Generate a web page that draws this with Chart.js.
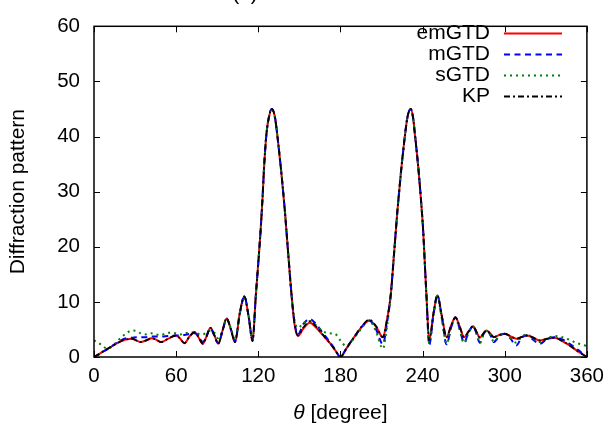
<!DOCTYPE html>
<html>
<head>
<meta charset="utf-8">
<script src="https://cdn.jsdelivr.net/npm/chart.js@4.4.1/dist/chart.umd.min.js"></script>
<style>
  html, body { margin: 0; padding: 0; background: #fff; }
  canvas { display: block; }
</style>
</head>
<body>
<canvas id="diffChart" width="611" height="425"></canvas>
<script>
// angles (degree)
const theta = [0, 3, 6, 9, 12, 15, 18, 21, 24, 28, 31, 34, 38, 42, 45, 49, 54, 60, 63, 66,
  70, 73.5, 76.5, 79.5, 82, 85, 88, 90.7, 94, 96.8, 100, 103, 106.5, 109.8, 113, 115.8,
  118.2, 120, 121.7, 123.1, 124.3, 126, 128, 129.7, 132.1, 134.5, 137, 139.4, 141.8, 144.3,
  146.5, 149, 153, 157.7, 162, 167, 172, 176, 180, 184, 188, 192, 196, 201, 206, 211,
  213.8, 216.7, 219.2, 221.6, 224, 226.5, 229, 231.3, 233, 234.3, 236.7, 238.7, 240.4, 241.6,
  242.8, 244.8, 248, 250.8, 254, 257.5, 261, 264, 267, 270.3, 273.5, 276.9, 279.3, 281.8,
  284.2, 286.6, 289.3, 292, 296, 300, 304, 308.5, 312, 315.8, 320, 325.5, 331, 336.5,
  342, 347.4, 353, 360];

const kp = [0, 0.45, 0.9, 1.35, 1.8, 2.25, 2.65, 3.0, 3.2, 3.3, 3.0, 2.7, 3.0, 3.4, 3.2, 2.7, 3.3, 3.9, 3.3, 2.5,
  3.8, 4.5, 3.5, 2.4, 3.6, 5.3, 3.9, 2.4, 4.9, 7.0, 5.0, 2.7, 8.0, 11.0, 7.2, 2.9,
  11.2, 17.1, 23.0, 28.9, 34.8, 40.6, 43.8, 45.0, 43.6, 38.9, 33.0, 26.5, 18.9, 11.2,
  6.0, 3.9, 5.4, 6.5, 5.6, 4.1, 2.6, 1.3, 0, 1.4, 2.9, 4.3, 5.7, 6.8, 5.6, 3.6,
  6.5, 11.2, 18.9, 26.5, 33.0, 38.9, 43.6, 45.0, 43.5, 40.6, 34.8, 28.9, 23.0, 17.1,
  11.2, 3.0, 8.0, 11.2, 7.5, 3.6, 5.8, 7.2, 5.6, 3.6, 4.6, 5.6, 4.6, 3.5,
  4.2, 4.8, 4.3, 3.6, 4.0, 4.2, 3.8, 3.3, 3.6, 3.9, 3.6, 3.0, 3.3, 3.5,
  2.9, 2.1, 1.1, 0];

const emgtd = [0, 0.45, 0.9, 1.35, 1.8, 2.25, 2.65, 3.0, 3.2, 3.3, 3.0, 2.7, 3.0, 3.4, 3.2, 2.7, 3.3, 3.9, 3.3, 2.5,
  3.8, 4.5, 3.5, 2.4, 3.6, 5.3, 3.9, 2.4, 4.9, 7.0, 5.0, 2.7, 8.0, 11.0, 7.2, 2.9,
  11.2, 17.1, 23.0, 28.9, 34.8, 40.6, 43.8, 45.0, 43.6, 38.9, 33.0, 26.5, 18.9, 11.2,
  5.9, 3.8, 5.2, 6.2, 5.4, 4.0, 2.6, 1.3, 0, 1.4, 2.9, 4.3, 5.6, 6.6, 5.5, 3.6,
  6.5, 11.2, 18.9, 26.5, 33.0, 38.9, 43.6, 45.0, 43.5, 40.6, 34.8, 28.9, 23.0, 17.1,
  11.2, 3.1, 8.0, 11.2, 7.5, 3.6, 5.8, 7.2, 5.6, 3.6, 4.6, 5.6, 4.6, 3.5,
  4.2, 4.8, 4.3, 3.6, 4.0, 4.2, 3.8, 3.3, 3.6, 3.9, 3.6, 3.0, 3.3, 3.5,
  2.9, 2.1, 1.1, 0];

const mgtd = [0, 0.4, 0.9, 1.3, 1.8, 2.3, 2.8, 3.2, 3.4, 3.5, 3.6, 3.6, 3.6, 3.7, 3.7, 3.7, 3.8, 3.9, 3.9, 4.0,
  4.2, 4.3, 3.9, 2.7, 3.7, 5.2, 3.8, 2.5, 4.8, 7.0, 5.0, 2.8, 7.9, 11.0, 7.3, 3.0,
  11.2, 17.1, 23.0, 28.9, 34.8, 40.6, 43.8, 45.0, 43.6, 38.9, 33.0, 26.5, 18.9, 11.2,
  6.2, 4.1, 6.0, 6.9, 6.0, 4.4, 2.8, 1.4, 0, 1.4, 2.9, 4.3, 5.6, 6.6, 5.0, 2.3,
  5.8, 11.2, 18.9, 26.5, 33.0, 38.9, 43.6, 45.0, 43.5, 40.6, 34.8, 28.9, 23.0, 17.1,
  11.2, 2.2, 7.8, 11.2, 7.2, 2.3, 5.5, 7.2, 5.2, 2.6, 4.4, 5.6, 4.3, 2.6,
  4.0, 4.8, 4.1, 2.7, 3.8, 4.2, 3.4, 2.1, 3.4, 3.9, 3.3, 2.4, 3.3, 3.6,
  3.2, 2.4, 1.4, 0];

const sgtd = [3.0, 2.6, 2.1, 1.6, 1.7, 2.3, 3.1, 3.8, 4.4, 4.8, 4.7, 4.3, 4.1, 4.3, 4.1, 4.0, 4.4, 4.3, 4.1, 4.3,
  4.4, 4.5, 4.2, 4.1, 4.4, 4.8, 4.4, 3.4, 5.0, 6.9, 5.2, 3.2, 8.1, 10.9, 7.4, 3.2,
  11.2, 17.1, 23.0, 28.9, 34.8, 40.6, 43.8, 45.0, 43.6, 38.9, 33.0, 26.5, 18.9, 11.2,
  6.6, 5.3, 6.2, 6.5, 5.8, 4.7, 4.3, 4.2, 3.0, 2.0, 2.8, 4.1, 5.4, 6.6, 4.6, 1.5,
  5.2, 11.2, 18.9, 26.5, 33.0, 38.9, 43.6, 45.0, 43.5, 40.6, 34.8, 28.9, 23.0, 17.1,
  11.2, 2.5, 7.6, 11.1, 7.0, 2.4, 5.4, 7.1, 5.0, 2.5, 4.3, 5.5, 4.2, 2.5,
  3.9, 4.7, 4.0, 2.8, 3.8, 4.3, 3.5, 2.6, 3.6, 4.1, 3.6, 2.7, 3.4, 3.8,
  3.6, 3.1, 2.5, 2.0];

const xTicks = [0, 60, 120, 180, 240, 300, 360];
const yTicks = [0, 10, 20, 30, 40, 50, 60];
const seriesNames = ['emGTD', 'mGTD', 'sGTD', 'KP'];

const FONT = '"Liberation Sans", Arial, Helvetica, sans-serif';
const TEXT_PX = 21;
const TICK_PX = 20.5;

const styles = [
  { color: '#ff0000', dash: [], width: 2 },
  { color: '#0000ff', dash: [6, 4.5], width: 2 },
  { color: '#008000', dash: [2, 4], width: 2 },
  { color: '#000000', dash: [6, 3, 2, 3], width: 1.8 }
];

function toPoints(values) {
  return theta.map((t, i) => ({ x: t, y: values[i] }));
}

// gnuplot look: full frame, inward ticks on all sides, legend inside, italic theta
const frame = {
  id: 'frame',
  afterDraw(chart) {
    const { ctx, chartArea: a, scales } = chart;
    const len = 6;
    ctx.save();
    ctx.strokeStyle = '#000';
    ctx.lineWidth = 1.5;
    ctx.strokeRect(a.left, a.top, a.right - a.left, a.bottom - a.top);
    ctx.lineWidth = 1;
    ctx.beginPath();
    xTicks.forEach(v => {
      const px = Math.round(scales.x.getPixelForValue(v)) + 0.5;
      ctx.moveTo(px, a.bottom); ctx.lineTo(px, a.bottom - len);
      ctx.moveTo(px, a.top); ctx.lineTo(px, a.top + len);
    });
    yTicks.forEach(v => {
      const py = Math.round(scales.y.getPixelForValue(v)) + 0.5;
      ctx.moveTo(a.left, py); ctx.lineTo(a.left + len, py);
      ctx.moveTo(a.right, py); ctx.lineTo(a.right - len, py);
    });
    ctx.stroke();

    // legend
    ctx.font = TEXT_PX + 'px ' + FONT;
    ctx.fillStyle = '#000';
    ctx.textAlign = 'right';
    ctx.textBaseline = 'middle';
    const rows = [33, 54, 75, 96];
    seriesNames.forEach((name, i) => {
      const y = rows[i];
      ctx.fillText(name, 490, y);
      ctx.beginPath();
      ctx.strokeStyle = styles[i].color;
      ctx.lineWidth = styles[i].width;
      ctx.setLineDash(styles[i].dash);
      ctx.moveTo(504, y + 0.5);
      ctx.lineTo(562, y + 0.5);
      ctx.stroke();
    });
    ctx.setLineDash([]);

    // x axis title
    const cx = (a.left + a.right) / 2;
    const ty = 413;
    ctx.textAlign = 'left';
    ctx.font = 'italic ' + TEXT_PX + 'px ' + FONT;
    const th = 'θ';
    const thW = ctx.measureText(th).width;
    ctx.font = TEXT_PX + 'px ' + FONT;
    const rest = ' [degree]';
    const restW = ctx.measureText(rest).width;
    const x0 = cx - (thW + restW) / 2;
    ctx.font = 'italic ' + TEXT_PX + 'px ' + FONT;
    ctx.fillText(th, x0, ty);
    ctx.font = TEXT_PX + 'px ' + FONT;
    ctx.fillText(rest, x0 + thW, ty);

    // title, mostly cut off at the top edge
    ctx.textAlign = 'center';
    ctx.textBaseline = 'alphabetic';
    ctx.fillText('(a)', 245, 0);
    ctx.restore();
  }
};

const ctx = document.getElementById('diffChart').getContext('2d');
const diffChart = new Chart(ctx, {
  type: 'line',
  data: {
    datasets: [
      { label: 'emGTD', data: toPoints(emgtd), order: 4 },
      { label: 'mGTD', data: toPoints(mgtd), order: 3 },
      { label: 'sGTD', data: toPoints(sgtd), order: 2 },
      { label: 'KP', data: toPoints(kp), order: 1 }
    ].map((d, i) => Object.assign(d, {
      borderColor: styles[i].color,
      borderWidth: styles[i].width,
      borderDash: styles[i].dash,
      pointRadius: 0,
      fill: false,
      cubicInterpolationMode: 'monotone'
    }))
  },
  options: {
    responsive: false,
    animation: false,
    devicePixelRatio: 1,
    layout: { padding: { top: 17, right: 24, left: 0, bottom: 0 } },
    plugins: {
      legend: { display: false },
      tooltip: { enabled: false }
    },
    scales: {
      x: {
        type: 'linear',
        min: 0,
        max: 360,
        afterBuildTicks: s => { s.ticks = xTicks.map(v => ({ value: v })); },
        afterFit: s => { s.height = 68; },
        ticks: { color: '#000', font: { family: FONT, size: TICK_PX }, padding: 7, maxRotation: 0 },
        grid: { display: false, drawTicks: false },
        border: { display: false }
      },
      y: {
        min: 0,
        max: 60,
        afterBuildTicks: s => { s.ticks = yTicks.map(v => ({ value: v })); },
        afterFit: s => { s.width = 94; },
        title: {
          display: true,
          text: 'Diffraction pattern',
          color: '#000',
          font: { family: FONT, size: TEXT_PX },
          padding: { top: 6, bottom: 0 }
        },
        ticks: { color: '#000', font: { family: FONT, size: TICK_PX }, padding: 14 },
        grid: { display: false, drawTicks: false },
        border: { display: false }
      }
    }
  },
  plugins: [frame]
});
</script>
</body>
</html>
